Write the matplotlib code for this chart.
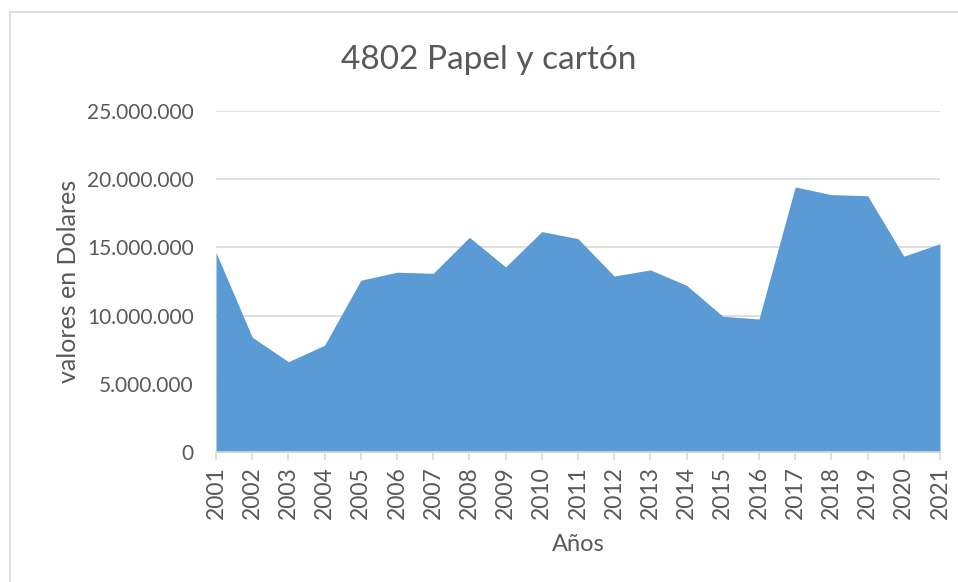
import matplotlib.pyplot as plt
from matplotlib.patches import Rectangle
from matplotlib.ticker import FuncFormatter

plt.rcParams['font.family'] = ['Lato', 'DejaVu Sans']

years = list(range(2001, 2022))
valores = [14630000, 8420000, 6620000, 7830000, 12590000, 13180000, 13100000,
           15740000, 13570000, 16160000, 15640000, 12900000, 13350000, 12220000,
           9950000, 9750000, 19430000, 18870000, 18790000, 14360000, 15270000]
y_ticks = [0, 5000000, 10000000, 15000000, 20000000, 25000000]

text_color = '#595959'
grid_color = '#d9d9d9'

fig = plt.figure(figsize=(9.58, 5.82), dpi=100)
ax = fig.add_axes([216/958, 1 - 452/582, (940 - 216)/958, (452 - 111)/582])

# area series
ax.fill_between(years, valores, 0, color='#5b9bd5', linewidth=0)

ax.set_xlim(years[0], years[-1])
ax.set_ylim(0, 25000000)
ax.set_yticks(y_ticks)
ax.yaxis.set_major_formatter(FuncFormatter(lambda v, p: f"{int(v):,}".replace(",", ".")))
ax.set_xticks(years)
ax.set_xticklabels([str(y) for y in years], rotation=90)

ax.grid(axis='y', color=grid_color, linewidth=1.2)
ax.set_axisbelow(True)
for s in ['top', 'right', 'left']:
    ax.spines[s].set_visible(False)
ax.spines['bottom'].set_color(grid_color)
ax.spines['bottom'].set_linewidth(1.2)
ax.tick_params(axis='y', length=0, pad=16, labelsize=15, labelcolor=text_color)
ax.tick_params(axis='x', length=6, color=grid_color, width=1.2, pad=4,
               labelsize=16.5, labelcolor=text_color)

ax.set_ylabel('valores en Dolares', fontsize=18, color=text_color, labelpad=5)
ax.set_xlabel('Años', fontsize=17, color=text_color, labelpad=11)

fig.text(489/958, 1 - 60/582, '4802 Papel y cartón', ha='center', va='center',
         fontsize=24, color=text_color)

# chart border
fig.patches.append(Rectangle((10/958, -0.05), 1.0, 1 - 12/582 + 0.05,
                             transform=fig.transFigure, fill=False,
                             edgecolor=grid_color, linewidth=1.2))

fig.savefig('out.png', dpi=100)
